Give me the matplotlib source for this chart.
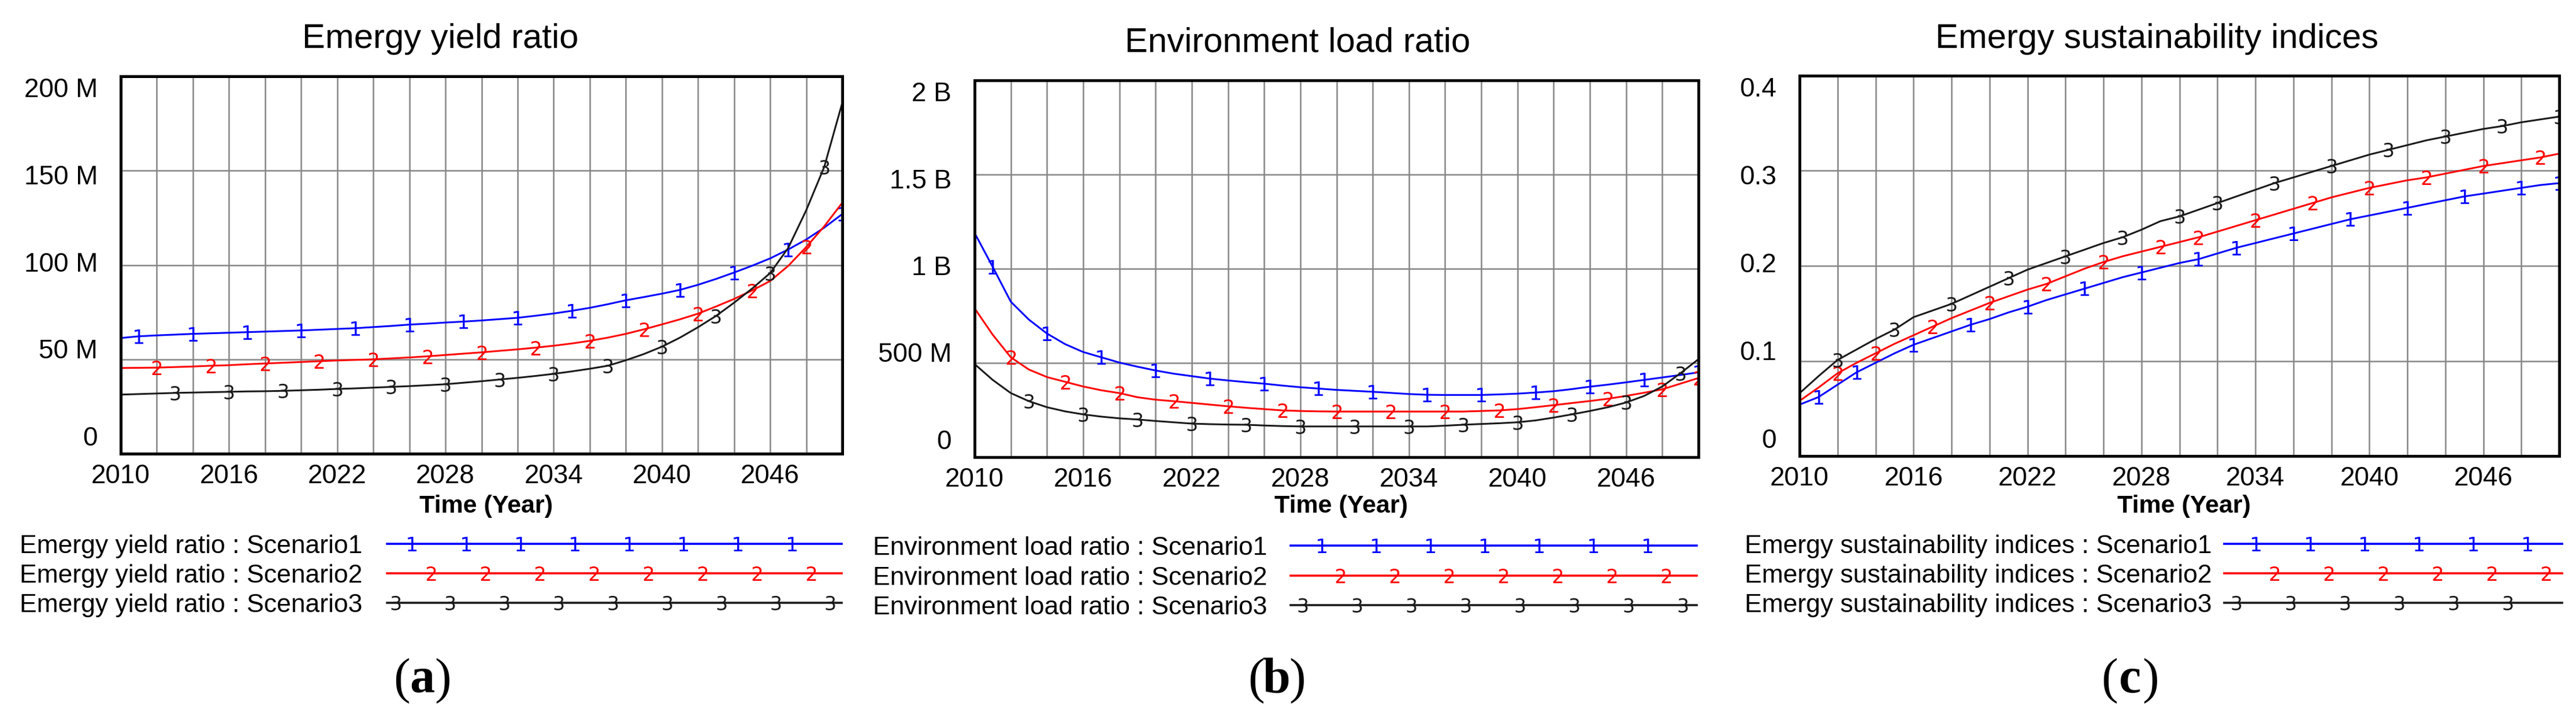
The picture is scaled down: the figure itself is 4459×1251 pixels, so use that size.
import matplotlib
matplotlib.use('Agg')
import matplotlib.pyplot as plt
import numpy as np

plt.rcParams['font.family'] = ['Liberation Sans', 'DejaVu Sans']

# ---- data ----
years = np.arange(2010, 2051)

# (a) Emergy yield ratio, millions
eyr_s1 = [61.3, 62.2, 62.7, 63.1, 63.5, 63.8, 64.1, 64.4, 64.7, 65.0, 65.3, 65.7, 66.1, 66.5,
          67.1, 67.7, 68.4, 68.9, 69.5, 70.0, 70.6, 71.3, 72.0, 73.1, 74.3, 75.7, 77.3, 79.2,
          81.3, 83.0, 84.8, 86.8, 89.5, 92.6, 96.0, 99.6, 103.5, 108.2, 113.5, 119.8, 127.0]
eyr_s2 = [45.4, 45.5, 45.6, 45.9, 46.2, 46.6, 46.9, 47.4, 47.8, 48.2, 48.6, 49.0, 49.4, 49.7,
          50.0, 50.5, 51.0, 51.6, 52.3, 53.0, 53.7, 54.5, 55.3, 56.2, 57.2, 58.4, 59.8, 61.5,
          63.5, 65.9, 68.5, 71.2, 74.2, 78.0, 82.0, 86.5, 91.5, 99.5, 109.5, 120.5, 133.0]
eyr_s3 = [31.3, 31.6, 31.9, 32.2, 32.4, 32.6, 32.8, 33.0, 33.1, 33.3, 33.6, 33.9, 34.3, 34.6,
          35.0, 35.4, 35.8, 36.3, 36.8, 37.6, 38.4, 39.3, 40.2, 41.2, 42.3, 43.6, 45.0, 46.6,
          49.5, 52.8, 56.7, 61.5, 67.0, 73.0, 80.0, 87.5, 95.7, 109.0, 129.0, 152.0, 186.0]

# (b) Environment load ratio, billions
elr_s1 = [1.19, 1.01, 0.825, 0.73, 0.656, 0.60, 0.558, 0.53, 0.502, 0.48, 0.46, 0.443, 0.43,
          0.417, 0.407, 0.398, 0.39, 0.38, 0.371, 0.364, 0.357, 0.352, 0.347, 0.341, 0.335,
          0.331, 0.330, 0.330, 0.330, 0.333, 0.337, 0.343, 0.350, 0.361, 0.374, 0.385, 0.397,
          0.41, 0.423, 0.436, 0.45]
elr_s2 = [0.79, 0.65, 0.53, 0.465, 0.425, 0.40, 0.375, 0.355, 0.34, 0.318, 0.305, 0.297, 0.288,
          0.279, 0.27, 0.262, 0.255, 0.248, 0.245, 0.243, 0.242, 0.242, 0.242, 0.242, 0.242,
          0.242, 0.242, 0.242, 0.245, 0.248, 0.255, 0.265, 0.276, 0.287, 0.298, 0.31, 0.325,
          0.342, 0.36, 0.39, 0.42]
elr_s3 = [0.494, 0.41, 0.34, 0.297, 0.265, 0.243, 0.227, 0.215, 0.206, 0.200, 0.192, 0.185,
          0.178, 0.175, 0.173, 0.172, 0.168, 0.165, 0.163, 0.163, 0.163, 0.163, 0.163, 0.163,
          0.163, 0.163, 0.167, 0.172, 0.176, 0.18, 0.185, 0.195, 0.21, 0.227, 0.245, 0.265,
          0.29, 0.325, 0.375, 0.445, 0.52]

# (c) Emergy sustainability indices
esi_s1 = [0.054, 0.062, 0.075, 0.088, 0.098, 0.108, 0.117, 0.124, 0.131, 0.138, 0.144, 0.151,
          0.157, 0.164, 0.170, 0.176, 0.182, 0.188, 0.193, 0.198, 0.203, 0.207, 0.213, 0.219,
          0.224, 0.229, 0.234, 0.239, 0.244, 0.249, 0.253, 0.257, 0.261, 0.265, 0.269, 0.273,
          0.276, 0.279, 0.282, 0.285, 0.287]
esi_s2 = [0.058, 0.072, 0.087, 0.098, 0.108, 0.118, 0.127, 0.136, 0.145, 0.153, 0.161, 0.168,
          0.175, 0.181, 0.189, 0.197, 0.204, 0.210, 0.215, 0.220, 0.225, 0.230, 0.236, 0.242,
          0.248, 0.254, 0.260, 0.266, 0.272, 0.277, 0.282, 0.286, 0.290, 0.293, 0.297, 0.301,
          0.305, 0.308, 0.311, 0.314, 0.318]
esi_s3 = [0.066, 0.084, 0.101, 0.112, 0.123, 0.133, 0.146, 0.153, 0.160, 0.169, 0.178, 0.187,
          0.196, 0.203, 0.210, 0.217, 0.224, 0.230, 0.238, 0.247, 0.252, 0.259, 0.266, 0.273,
          0.280, 0.287, 0.293, 0.299, 0.305, 0.311, 0.317, 0.322, 0.327, 0.332, 0.336, 0.340,
          0.344, 0.347, 0.351, 0.354, 0.357]

titles = ['Emergy yield ratio', 'Environment load ratio', 'Emergy sustainability indices']
ytick_labels = [['0', '50 M', '100 M', '150 M', '200 M'],
                ['0', '500 M', '1 B', '1.5 B', '2 B'],
                ['0', '0.1', '0.2', '0.3', '0.4']]
ymax = [200, 2.0, 0.4]
scenarios = ['Scenario1', 'Scenario2', 'Scenario3']
panel_tags = ['a', 'b', 'c']

# years where the numbered markers sit on each curve
marks_a = [list(range(2011, 2048, 3)) + [2050], list(range(2012, 2049, 3)), list(range(2013, 2050, 3))]
marks_b = [list(range(2011, 2048, 3)) + [2050], list(range(2012, 2049, 3)) + [2050], list(range(2013, 2050, 3))]
marks_c = [[2011, 2013, 2016, 2019, 2022, 2025, 2028, 2031, 2033, 2036, 2039, 2042, 2045, 2048, 2050],
           [2012, 2014, 2017, 2020, 2023, 2026, 2029, 2031, 2034, 2037, 2040, 2043, 2046, 2049],
           [2012, 2015, 2018, 2021, 2024, 2027, 2030, 2032, 2035, 2038, 2041, 2044, 2047, 2050]]

colors = ['#0000ff', '#ff0000', '#1a1a1a']

# ---- layout in pixels ----
W, H = 4459, 1251
fig = plt.figure(figsize=(W / 100, H / 100), dpi=100)

boxes = [(209, 132, 1458, 785), (1687, 139, 2940, 791), (3115, 131, 4430, 789)]
title_pos = [(523, 83), (1947, 90), (3350, 83)]
legend_text_x = [34, 1511, 3020]
legend_line = [(670, 1457), (2234, 2937), (3850, 4435)]
legend_rows = [(941, 992, 1043), (944, 996, 1047), (941, 992, 1043)]
legend_offsets = [(43, 76, 15), (54, 86, 21), (55, 87, 21)]
tag_x = [731, 2210, 3687]

ov = fig.add_axes([0, 0, 1, 1])
ov.set_xlim(0, W)
ov.set_ylim(H, 0)
ov.axis('off')

data = [[eyr_s1, eyr_s2, eyr_s3], [elr_s1, elr_s2, elr_s3], [esi_s1, esi_s2, esi_s3]]
marks = [marks_a, marks_b, marks_c]

for p in range(3):
    l, t, r, b = boxes[p]
    ax = fig.add_axes([l / W, 1 - b / H, (r - l) / W, (b - t) / H])
    ax.set_xlim(2010, 2050)
    ax.set_ylim(0, ymax[p])
    xt = np.arange(2010, 2051, 2)
    ax.set_xticks(xt)
    ax.set_xticklabels([str(y) if (y - 2010) % 6 == 0 and y < 2050 else '' for y in xt])
    ax.set_yticks(np.linspace(0, ymax[p], 5))
    ax.tick_params(length=0, labelsize=33, pad=12, labelleft=False)
    ax.grid(True, color='#858585', lw=1.8)
    ax.set_axisbelow(True)
    for sp in ax.spines.values():
        sp.set_linewidth(3.6)

    for s in range(3):
        vals = data[p][s]
        ax.plot(years, vals, color=colors[s], lw=2.2)
        mx = np.array(marks[p][s])
        ax.plot(mx, np.interp(mx, years, vals), ls='none', marker='$%d$' % (s + 1),
                ms=18, color=colors[s], mew=0)

    # y labels sit slightly inside the axis range, as in the original
    pad = 40 / (r - l)
    for i, lab in enumerate(ytick_labels[p]):
        ax.text(-pad, 0.04 + i * 0.923 / 4, lab, transform=ax.transAxes,
                ha='right', va='center', fontsize=33)

    ov.text(title_pos[p][0], title_pos[p][1], titles[p], fontsize=43, ha='left', va='baseline')
    ov.text((l + r) / 2 + 8, 887, 'Time (Year)', fontsize=31, fontweight='bold',
            ha='center', va='baseline')

    # legend
    x0, x1 = legend_line[p]
    for s in range(3):
        ry = legend_rows[p][s]
        ov.text(legend_text_x[p], ry + 16, '%s : %s' % (titles[p], scenarios[s]),
                fontsize=32, ha='left', va='baseline')
        ov.plot([x0, x1], [ry, ry], color=colors[s], lw=2.6)
        lx = np.arange(x0 + legend_offsets[p][s], x1 - 8, 94)
        ov.plot(lx, np.full(len(lx), ry), ls='none', marker='$%d$' % (s + 1),
                ms=18, color=colors[s], mew=0)

    # panel tag (a), (b), (c)
    cx = tag_x[p]
    ov.text(cx - 21, 1198, '(', family='Liberation Serif', fontsize=62, ha='right', va='baseline')
    ov.text(cx, 1198, panel_tags[p], family='Liberation Serif', fontweight='bold', fontsize=62,
            ha='center', va='baseline')
    ov.text(cx + 21, 1198, ')', family='Liberation Serif', fontsize=62, ha='left', va='baseline')

fig.savefig('out.png', dpi=100)
